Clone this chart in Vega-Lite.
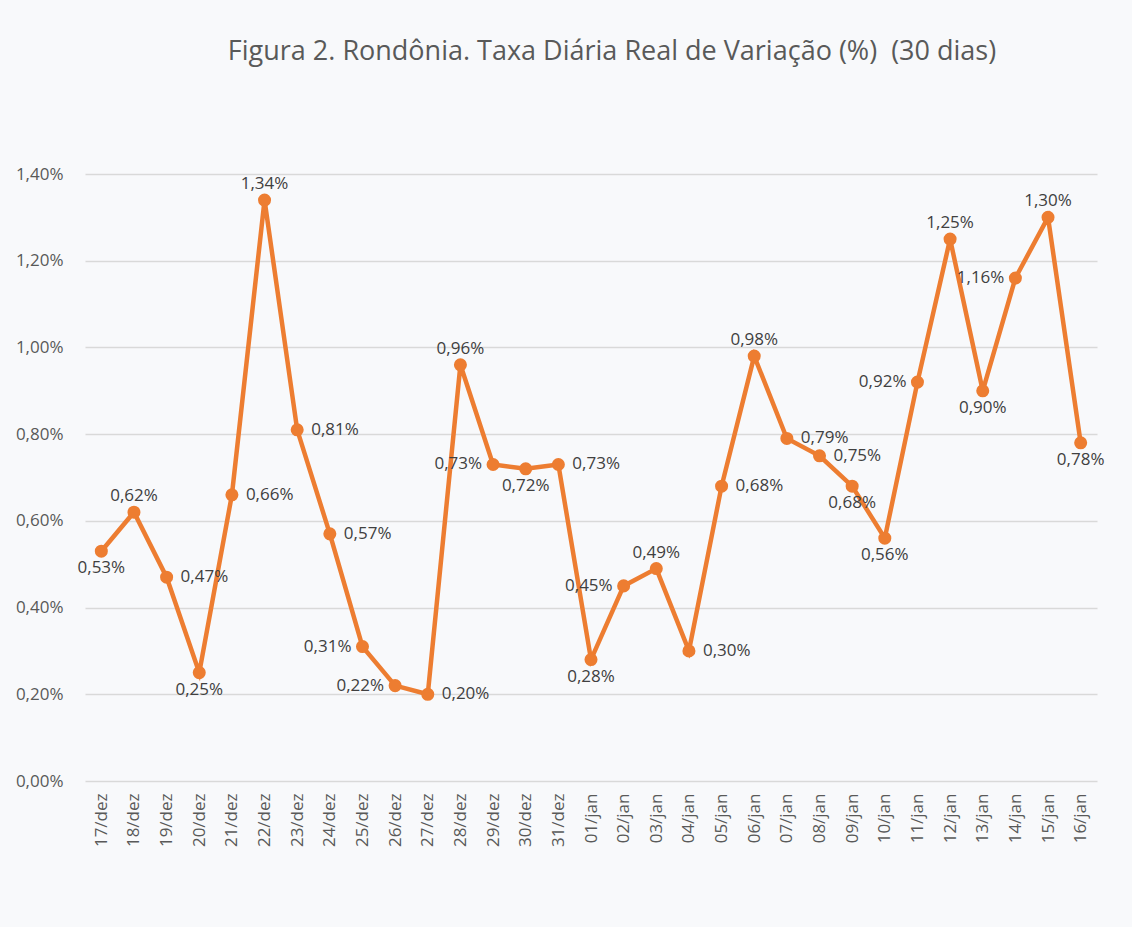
{
  "$schema": "https://vega.github.io/schema/vega-lite/v6.json",
  "autosize": {"type": "none"},
  "width": 1012,
  "height": 607,
  "padding": {"left": 85, "top": 174, "right": 35, "bottom": 146},
  "background": "#f8f9fb",
  "title": {
    "text": "Figura 2. Rondônia. Taxa Diária Real de Variação (%)\u00a0 (30 dias)",
    "font": "Open Sans",
    "fontSize": 27,
    "fontWeight": "normal",
    "color": "#595959",
    "anchor": "middle",
    "dx": 21,
    "offset": 99
  },
  "config": {
    "view": {"stroke": null},
    "font": "Open Sans"
  },
  "data": {
    "values": [
      {"dia": "17/dez", "taxa": 0.53, "pos": "below"},
      {"dia": "18/dez", "taxa": 0.62, "pos": "above"},
      {"dia": "19/dez", "taxa": 0.47, "pos": "right"},
      {"dia": "20/dez", "taxa": 0.25, "pos": "below"},
      {"dia": "21/dez", "taxa": 0.66, "pos": "right"},
      {"dia": "22/dez", "taxa": 1.34, "pos": "above"},
      {"dia": "23/dez", "taxa": 0.81, "pos": "right"},
      {"dia": "24/dez", "taxa": 0.57, "pos": "right"},
      {"dia": "25/dez", "taxa": 0.31, "pos": "left"},
      {"dia": "26/dez", "taxa": 0.22, "pos": "left"},
      {"dia": "27/dez", "taxa": 0.20, "pos": "right"},
      {"dia": "28/dez", "taxa": 0.96, "pos": "above"},
      {"dia": "29/dez", "taxa": 0.73, "pos": "left"},
      {"dia": "30/dez", "taxa": 0.72, "pos": "below"},
      {"dia": "31/dez", "taxa": 0.73, "pos": "right"},
      {"dia": "01/jan", "taxa": 0.28, "pos": "below"},
      {"dia": "02/jan", "taxa": 0.45, "pos": "left"},
      {"dia": "03/jan", "taxa": 0.49, "pos": "above"},
      {"dia": "04/jan", "taxa": 0.30, "pos": "right"},
      {"dia": "05/jan", "taxa": 0.68, "pos": "right"},
      {"dia": "06/jan", "taxa": 0.98, "pos": "above"},
      {"dia": "07/jan", "taxa": 0.79, "pos": "right"},
      {"dia": "08/jan", "taxa": 0.75, "pos": "right"},
      {"dia": "09/jan", "taxa": 0.68, "pos": "below"},
      {"dia": "10/jan", "taxa": 0.56, "pos": "below"},
      {"dia": "11/jan", "taxa": 0.92, "pos": "left"},
      {"dia": "12/jan", "taxa": 1.25, "pos": "above"},
      {"dia": "13/jan", "taxa": 0.90, "pos": "below"},
      {"dia": "14/jan", "taxa": 1.16, "pos": "left"},
      {"dia": "15/jan", "taxa": 1.30, "pos": "above"},
      {"dia": "16/jan", "taxa": 0.78, "pos": "below"}
    ]
  },
  "transform": [
    {"calculate": "replace(format(datum.taxa, '.2f'), '.', ',') + '%'", "as": "rotulo"}
  ],
  "encoding": {
    "x": {
      "field": "dia",
      "type": "nominal",
      "sort": null,
      "title": null,
      "axis": {
        "labelAngle": -90,
        "labelAlign": "right",
        "labelBaseline": "middle",
        "labelFontSize": 17,
        "labelColor": "#595959",
        "labelPadding": 12,
        "ticks": false,
        "domain": false,
        "grid": false
      }
    },
    "y": {
      "field": "taxa",
      "type": "quantitative",
      "title": null,
      "scale": {"domain": [0, 1.4], "nice": false},
      "axis": {
        "values": [0, 0.2, 0.4, 0.6, 0.8, 1.0, 1.2, 1.4],
        "labelExpr": "replace(format(datum.value, '.2f'), '.', ',') + '%'",
        "labelFontSize": 17,
        "labelColor": "#595959",
        "labelPadding": 22,
        "ticks": false,
        "domain": false,
        "grid": true,
        "gridColor": "#d9d9d9",
        "gridWidth": 1.5
      }
    }
  },
  "layer": [
    {"mark": {"type": "line", "color": "#ed7d31", "strokeWidth": 4.5}},
    {"mark": {"type": "point", "filled": true, "opacity": 1, "color": "#ed7d31", "size": 170}},
    {
      "transform": [{"filter": "datum.pos === 'above'"}],
      "mark": {"type": "text", "fontSize": 17, "color": "#404040", "baseline": "bottom", "dy": -7},
      "encoding": {"text": {"field": "rotulo"}}
    },
    {
      "transform": [{"filter": "datum.pos === 'below'"}],
      "mark": {"type": "text", "fontSize": 17, "color": "#404040", "baseline": "top", "dy": 9},
      "encoding": {"text": {"field": "rotulo"}}
    },
    {
      "transform": [{"filter": "datum.pos === 'right'"}],
      "mark": {"type": "text", "fontSize": 17, "color": "#404040", "align": "left", "baseline": "middle", "dx": 14},
      "encoding": {"text": {"field": "rotulo"}}
    },
    {
      "transform": [{"filter": "datum.pos === 'left'"}],
      "mark": {"type": "text", "fontSize": 17, "color": "#404040", "align": "right", "baseline": "middle", "dx": -11},
      "encoding": {"text": {"field": "rotulo"}}
    }
  ]
}
